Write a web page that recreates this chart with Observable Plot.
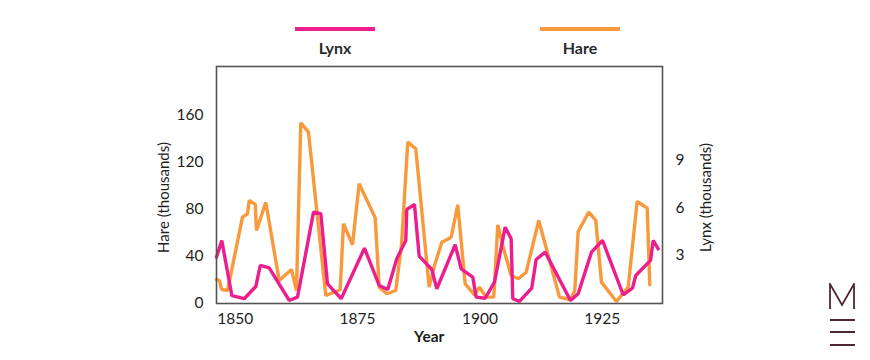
<!DOCTYPE html>
<html>
<head>
<meta charset="utf-8">
<script src="https://cdn.jsdelivr.net/npm/d3@7"></script>
<script src="https://cdn.jsdelivr.net/npm/@observablehq/plot@0.6"></script>
<style>
  html, body { margin: 0; padding: 0; background: #fff; }
  body { width: 870px; height: 360px; position: relative; overflow: hidden; font-family: Lato, "Open Sans", sans-serif; }
  #legend { position: relative; height: 56px; width: 870px; }
  .item { position: absolute; top: 0; width: 80px; height: 56px; }
  .swatch { position: absolute; left: 0; top: 27px; width: 80px; height: 4px; }
  .lab { position: absolute; left: 0; width: 80px; top: 38px; text-align: center; font-size: 16px; font-weight: 700; color: #2b2b2b; line-height: 19px; }
  #logo { position: absolute; left: 829px; top: 283px; }
</style>
</head>
<body>
<div id="legend"></div>
<div id="chart"></div>
<svg id="logo" width="28" height="64" viewBox="0 0 28 64">
  <polyline points="1,26 1,1 13,22 25,1 25,26" fill="none" stroke="#4d2738" stroke-width="1.8"/>
  <rect x="1" y="36" width="25" height="2" fill="#4d2738"/>
  <rect x="1" y="48" width="25" height="2" fill="#4d2738"/>
  <rect x="1" y="61" width="25" height="2" fill="#4d2738"/>
</svg>
<script>
// Hare pelts (thousands)
const hareYears = [1846.18,1846.79,1847.20,1848.43,1851.49,1852.51,1852.86,1854.09,1854.35,1856.25,1858.99,1861.50,1862.52,1863.40,1864.97,1868.51,1871.45,1872.12,1873.96,1875.33,1878.60,1879.42,1880.97,1882.81,1883.98,1885.26,1886.89,1889.63,1890.72,1892.21,1893.58,1894.13,1895.47,1896.99,1898.89,1899.91,1901.28,1902.83,1903.65,1904.75,1906.38,1907.88,1909.45,1912.02,1916.25,1918.50,1919.38,1920.07,1922.24,1923.67,1924.83,1927.89,1930.29,1932.12,1934.17,1934.70];
const hareValues = [19.8,18.9,11.3,10.4,72.9,75.8,87.2,83.8,61.6,85.7,18.9,28.3,10.4,153.4,145.4,6.1,11.0,67.3,49.4,101.4,72.4,13.2,7.6,10.4,49.6,136.9,131.3,13.2,31.7,51.6,54.5,55.9,83.5,16.1,6.7,13.2,4.7,4.7,66.4,47.3,23.2,20.4,26.0,70.1,4.7,2.5,10.4,60.7,77.2,70.1,17.5,1.0,13.2,86.3,80.6,15.3];

// Lynx pelts (thousands)
const lynxYears = [1846.18,1847.26,1849.31,1851.84,1854.21,1855.11,1856.95,1861.03,1862.73,1866.00,1867.49,1868.86,1871.65,1876.41,1879.42,1881.17,1883.01,1884.85,1885.06,1886.63,1887.59,1890.16,1891.19,1894.94,1896.17,1898.54,1899.23,1901.07,1902.97,1905.16,1906.38,1906.71,1908.08,1910.59,1911.49,1913.33,1918.50,1920.07,1922.79,1925.04,1929.27,1931.17,1931.84,1934.85,1935.40,1936.42];
const lynxValues = [2.87,3.93,0.45,0.25,1.02,2.35,2.20,0.14,0.35,5.72,5.62,1.19,0.25,3.44,1.09,0.83,2.77,3.93,5.89,6.20,2.94,2.10,0.88,3.66,2.14,1.61,0.35,0.28,1.30,4.77,4.04,0.25,0.08,0.92,2.73,3.19,0.14,0.56,3.19,3.93,0.50,0.92,1.72,2.67,3.93,3.40];

const xTicks = [1850, 1875, 1900, 1925];
const hareTicks = [0, 40, 80, 120, 160];
const lynxTicks = [3, 6, 9];

const series = ["Lynx", "Hare"];
const colors = {Lynx: "#ec1d8d", Hare: "#f89a3b"};
const LYNX_FACTOR = 13.5; // lynx thousands -> hare-axis units

const hare = hareYears.map((y, i) => ({year: y, value: hareValues[i]}));
const lynx = lynxYears.map((y, i) => ({year: y, value: lynxValues[i]}));

// legend
const legend = document.getElementById("legend");
const legendLeft = {Lynx: 295, Hare: 540};
for (const s of series) {
  const it = document.createElement("div");
  it.className = "item";
  it.style.left = legendLeft[s] + "px";
  it.innerHTML = `<div class="swatch" style="background:${colors[s]}"></div><div class="lab">${s}</div>`;
  legend.appendChild(it);
}

const chart = Plot.plot({
  width: 870,
  height: 304,
  marginTop: 10,
  marginBottom: 57,
  marginLeft: 216,
  marginRight: 208,
  style: {fontFamily: "Lato, 'Open Sans', sans-serif", fontSize: "15px", color: "#1e1e1e", background: "#fff"},
  x: {domain: [1846.18, 1937.3]},
  y: {domain: [-0.7, 201.4]},
  marks: [
    Plot.line(hare, {x: "year", y: "value", stroke: colors.Hare, strokeWidth: 3.4, strokeLinejoin: "miter"}),
    Plot.line(lynx, {x: "year", y: d => d.value * LYNX_FACTOR, stroke: colors.Lynx, strokeWidth: 3.4, strokeLinejoin: "miter"}),
    Plot.frame({stroke: "#555", strokeWidth: 1.6}),
    Plot.axisX(xTicks, {tickSize: 0, tickPadding: 9, label: null, tickFormat: d => String(d), fontSize: 15.5}),
    Plot.axisY(hareTicks, {anchor: "left", tickSize: 0, tickPadding: 13, label: null, fontSize: 15.5}),
    Plot.axisY(lynxTicks.map(v => v * LYNX_FACTOR), {anchor: "right", tickSize: 0, tickPadding: 13, label: null, fontSize: 15.5, tickFormat: v => String(Math.round(v / LYNX_FACTOR))}),
    Plot.text(["Hare (thousands)"], {frameAnchor: "left", rotate: -90, dx: -52.5, dy: 12.5, textAnchor: "middle", lineAnchor: "middle", fontSize: 15, fill: "#1e1e1e"}),
    Plot.text(["Lynx (thousands)"], {frameAnchor: "right", rotate: -90, dx: 43.7, dy: 12.5, textAnchor: "middle", lineAnchor: "middle", fontSize: 15, fill: "#1e1e1e"}),
    Plot.text(["Year"], {frameAnchor: "bottom", dx: -10.3, dy: 34, textAnchor: "middle", lineAnchor: "middle", fontSize: 15.5, fontWeight: 700, fill: "#1e1e1e"})
  ]
});
document.getElementById("chart").appendChild(chart);
</script>
</body>
</html>
